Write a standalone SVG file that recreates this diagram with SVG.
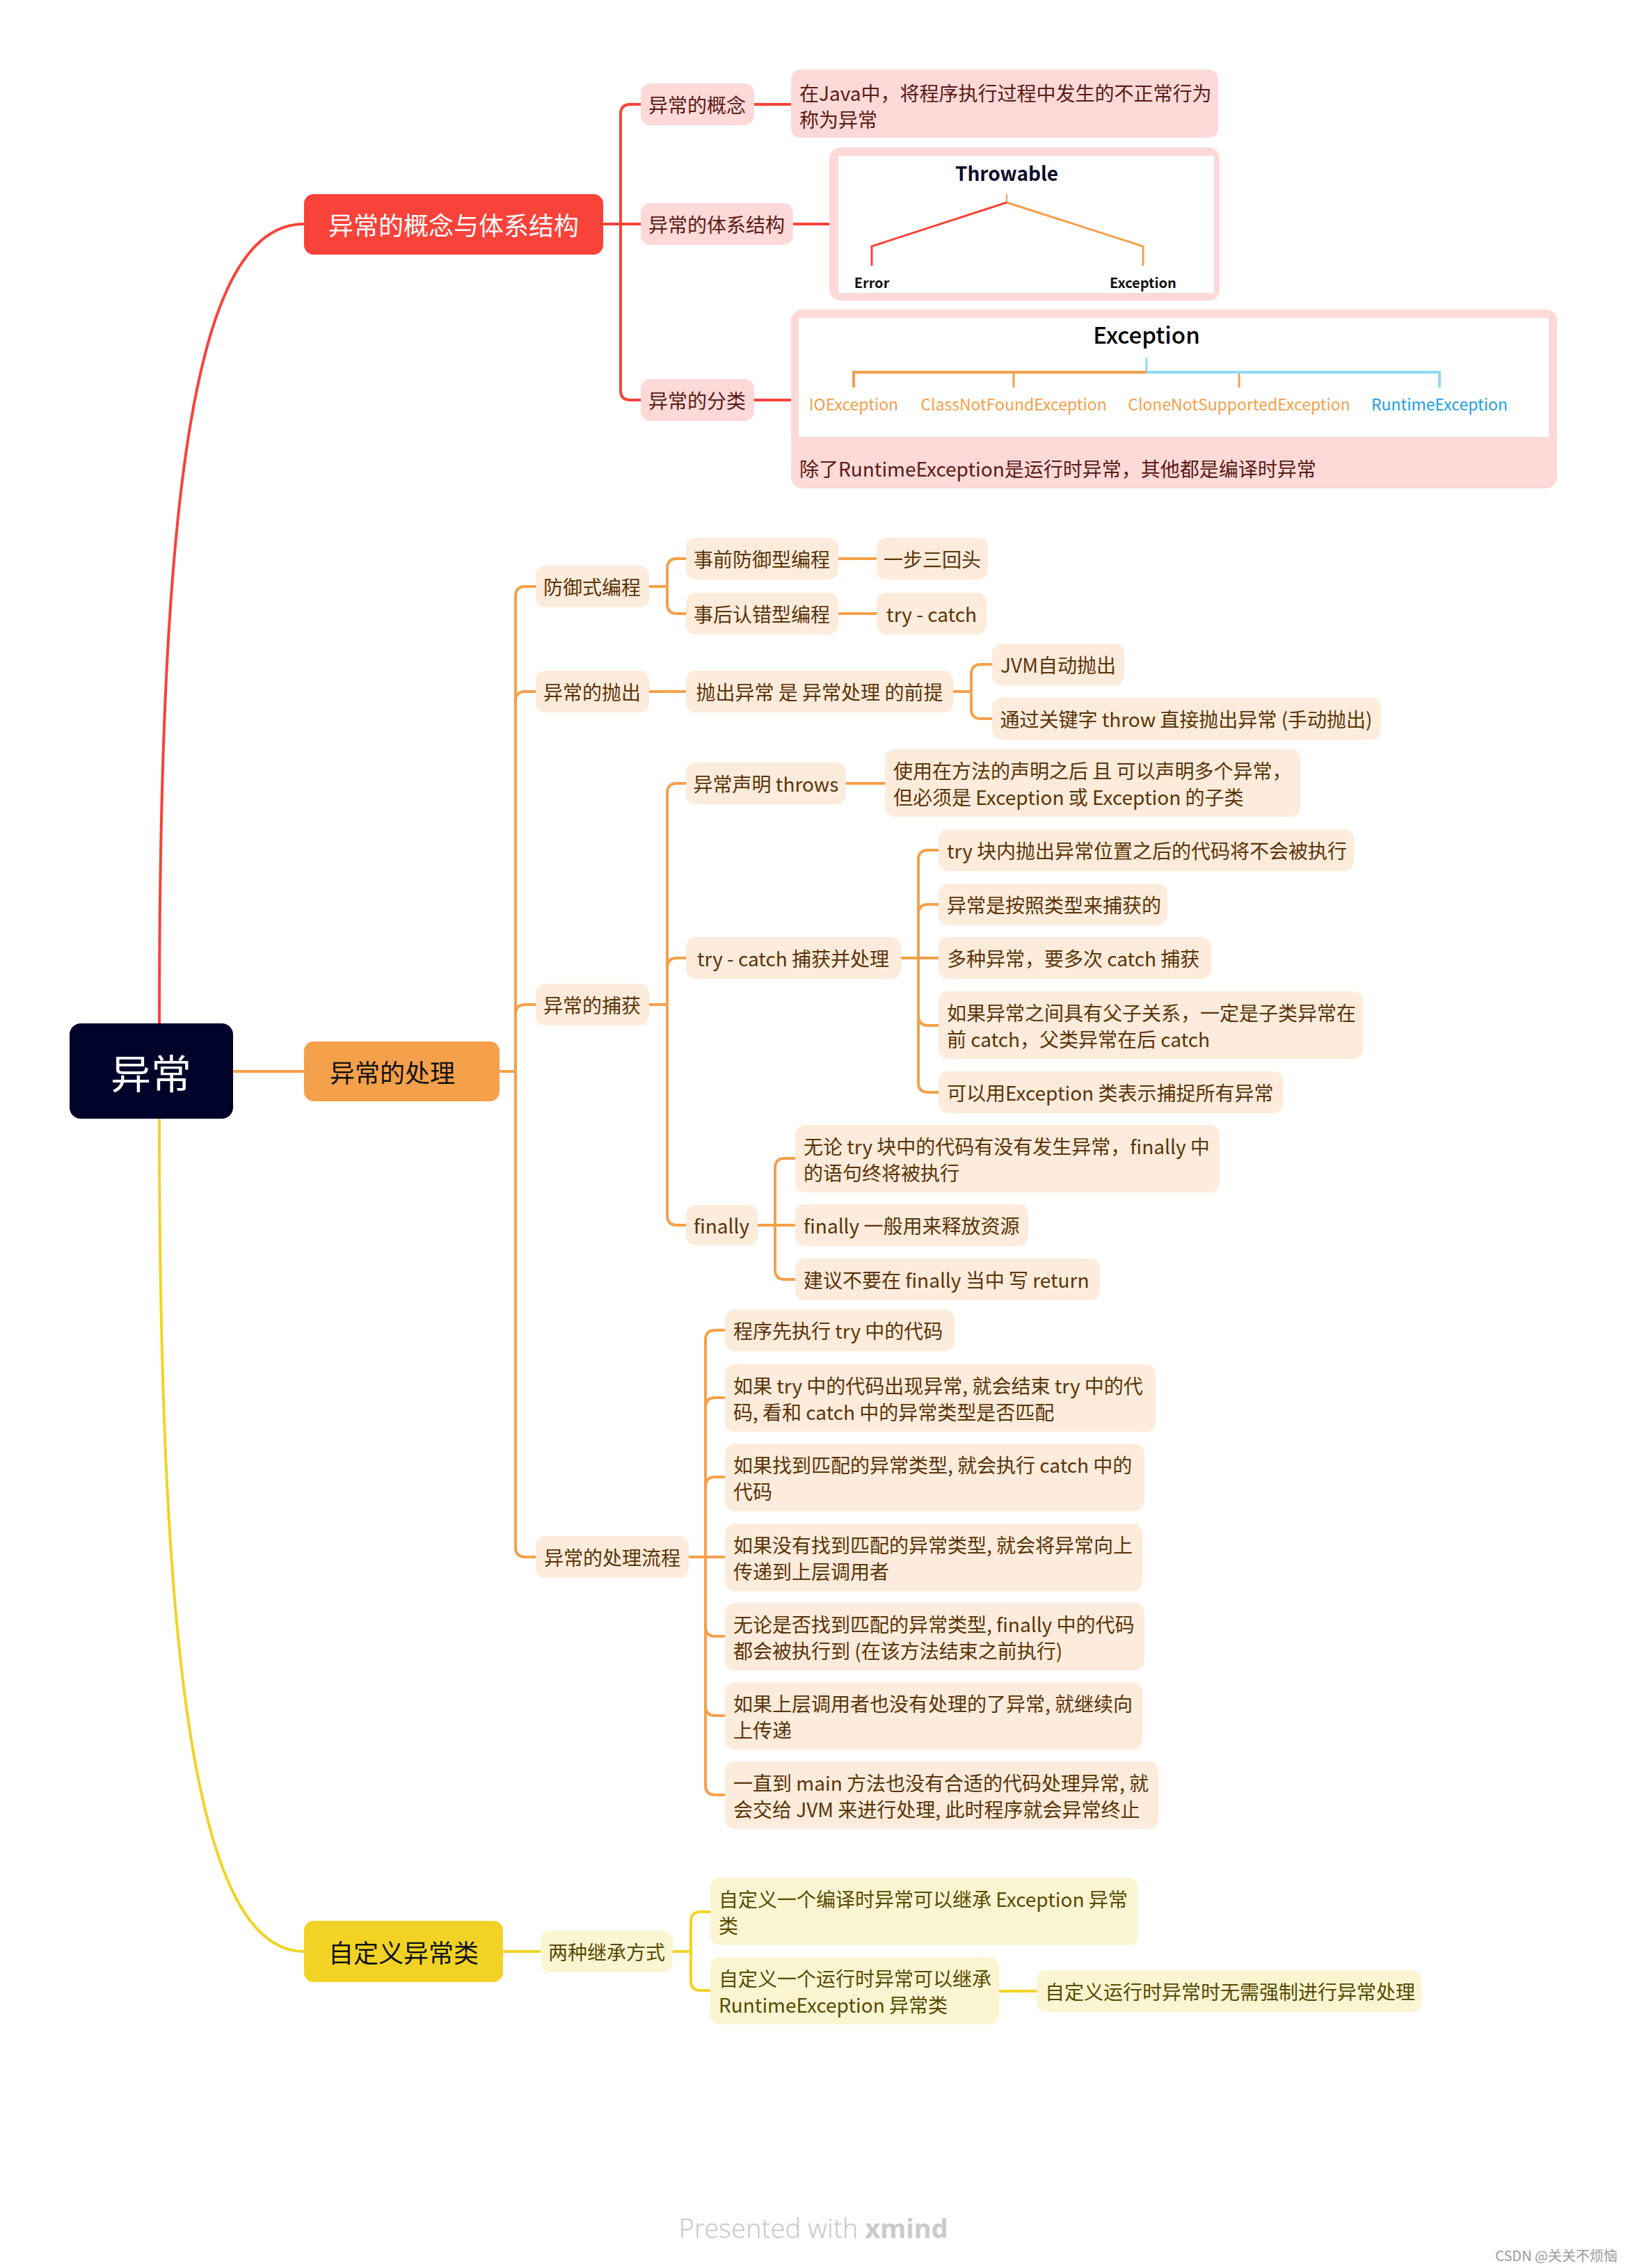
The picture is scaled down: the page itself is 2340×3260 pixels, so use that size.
<svg xmlns="http://www.w3.org/2000/svg" width="2340" height="3260" viewBox="0 0 2340 3260">
<style>
text{font-family:"Noto Sans CJK SC","Noto Sans",sans-serif;dominant-baseline:central}
.t{font-size:28px}
.c{text-anchor:middle}
.pr{fill:#FDD9D8}.po{fill:#FDEBDB}.py{fill:#FCF5D2}
.tr{fill:#5B1A14}.to{fill:#5A3408}.ty{fill:#574A00}
.cr{stroke:#F9423A;stroke-width:4;fill:none}
.co{stroke:#F5A04B;stroke-width:4;fill:none}
.cy{stroke:#F2D325;stroke-width:4;fill:none}
</style>
<rect width="2340" height="3260" fill="#fff"/>

<g id="connectors">
<path class="cr" stroke-width="5" d="M229,1471 C229,700 280,322 437,322"/>
<path class="cy" stroke-width="5" d="M229,1608 C229,2380 280,2805 437,2805"/>
<path class="co" d="M335,1540 H437"/>
<!-- red branch -->
<path class="cr" d="M867,322 H921"/>
<path class="cr" d="M892,322 V164 Q892,150 906,150 H921"/>
<path class="cr" d="M892,322 V561 Q892,575 906,575 H921"/>
<path class="cr" d="M1084,150 H1137"/>
<path class="cr" d="M1140,322 H1192"/>
<path class="cr" d="M1084,575 H1137"/>
<!-- orange branch -->
<path class="co" d="M718,1540 H741"/>
<path class="co" d="M741,1540 V857 Q741,843 755,843 H770"/>
<path class="co" d="M741,1540 V1008 Q741,994 755,994 H770"/>
<path class="co" d="M741,1540 V1458 Q741,1444 755,1444 H770"/>
<path class="co" d="M741,1540 V2224 Q741,2238 755,2238 H770"/>
<path class="co" d="M933,843 H959"/>
<path class="co" d="M959,843 V817 Q959,803 973,803 H986"/>
<path class="co" d="M959,843 V868 Q959,882 973,882 H986"/>
<path class="co" d="M1205,803 H1260"/>
<path class="co" d="M1205,882 H1260"/>
<path class="co" d="M933,994 H986"/>
<path class="co" d="M1370,994 H1396"/>
<path class="co" d="M1396,994 V969 Q1396,955 1410,955 H1426"/>
<path class="co" d="M1396,994 V1019 Q1396,1033 1410,1033 H1426"/>
<path class="co" d="M933,1444 H959"/>
<path class="co" d="M959,1444 V1140 Q959,1126 973,1126 H986"/>
<path class="co" d="M959,1444 V1391 Q959,1377 973,1377 H986"/>
<path class="co" d="M959,1444 V1747 Q959,1761 973,1761 H986"/>
<path class="co" d="M1216,1126 H1272"/>
<path class="co" d="M1295,1377 H1320"/>
<path class="co" d="M1320,1377 V1236 Q1320,1222 1334,1222 H1349"/>
<path class="co" d="M1320,1377 V1314 Q1320,1300 1334,1300 H1349"/>
<path class="co" d="M1320,1377 H1349"/>
<path class="co" d="M1320,1377 V1460 Q1320,1474 1334,1474 H1349"/>
<path class="co" d="M1320,1377 V1556 Q1320,1570 1334,1570 H1349"/>
<path class="co" d="M1089,1761 H1114"/>
<path class="co" d="M1114,1761 V1679 Q1114,1665 1128,1665 H1143"/>
<path class="co" d="M1114,1761 H1143"/>
<path class="co" d="M1114,1761 V1825 Q1114,1839 1128,1839 H1143"/>
<path class="co" d="M990,2238 H1014"/>
<path class="co" d="M1014,2238 V1926 Q1014,1912 1028,1912 H1042"/>
<path class="co" d="M1014,2238 V2023 Q1014,2009 1028,2009 H1042"/>
<path class="co" d="M1014,2238 V2137 Q1014,2123 1028,2123 H1042"/>
<path class="co" d="M1014,2238 H1042"/>
<path class="co" d="M1014,2238 V2338 Q1014,2352 1028,2352 H1042"/>
<path class="co" d="M1014,2238 V2452 Q1014,2466 1028,2466 H1042"/>
<path class="co" d="M1014,2238 V2566 Q1014,2580 1028,2580 H1042"/>
<!-- yellow branch -->
<path class="cy" d="M723,2805 H777"/>
<path class="cy" d="M967,2805 H993"/>
<path class="cy" d="M993,2805 V2762 Q993,2748 1007,2748 H1021"/>
<path class="cy" d="M993,2805 V2847 Q993,2861 1007,2861 H1021"/>
<path class="cy" d="M1436,2862 H1490"/>
</g>

<g id="root"><rect x="100" y="1471" width="235" height="137" rx="16" fill="#000229"/><text x="217" y="1540" class="c" font-size="58" fill="#fff">异常</text></g>

<g id="n-concept-main"><rect x="437" y="279" width="430" height="87" rx="14" fill="#F9423A"/><text x="652" y="322" class="c" font-size="36" fill="#fff">异常的概念与体系结构</text></g>
<g id="n-handle-main"><rect x="437" y="1497" width="281" height="86" rx="14" fill="#F5A04B"/><text x="564" y="1540" class="c" font-size="36" fill="#111">异常的处理</text></g>
<g id="n-custom-main"><rect x="437" y="2761" width="286" height="88" rx="14" fill="#F2D325"/><text x="580" y="2805" class="c" font-size="36" fill="#111">自定义异常类</text></g>

<!-- red sub nodes -->
<g id="n-gainian"><rect class="pr" x="921" y="120" width="163" height="60" rx="14"/><text class="t c tr" x="1002" y="150">异常的概念</text></g>
<g id="n-tixi"><rect class="pr" x="921" y="292" width="219" height="60" rx="14"/><text class="t c tr" x="1030" y="322">异常的体系结构</text></g>
<g id="n-fenlei"><rect class="pr" x="921" y="545" width="163" height="60" rx="14"/><text class="t c tr" x="1002" y="575">异常的分类</text></g>
<g id="n-gainian-leaf"><rect class="pr" x="1137" y="100" width="614" height="98" rx="14"/><text class="t tr" x="1149" y="133">在Java中，将程序执行过程中发生的不正常行为</text><text class="t tr" x="1149" y="171">称为异常</text></g>

<g id="n-throwable">
<rect class="pr" x="1192" y="212" width="561" height="220" rx="16"/>
<rect x="1205" y="224" width="540" height="197" fill="#fff"/>
<text x="1447" y="248" class="c" font-size="28" font-weight="700" fill="#0B0B2B">Throwable</text>
<path d="M1447,279 V291" stroke="#F4A04A" stroke-width="2" fill="none"/>
<path d="M1447,291 L1253,354 V382" stroke="#F9423A" stroke-width="3" fill="none"/>
<path d="M1447,291 L1643,354 V382" stroke="#F4A04A" stroke-width="3" fill="none"/>
<text x="1253" y="405" class="c" font-size="20" font-weight="700" fill="#111">Error</text>
<text x="1643" y="405" class="c" font-size="20" font-weight="700" fill="#111">Exception</text>
</g>

<g id="n-exception">
<rect class="pr" x="1137" y="445" width="1101" height="257" rx="16"/>
<rect x="1148" y="457" width="1078" height="171" fill="#fff"/>
<text x="1648" y="480" class="c" font-size="33" font-weight="500" fill="#000">Exception</text>
<path d="M1648,514 V535" stroke="#8EDBF5" stroke-width="3" fill="none"/>
<path d="M1227,557 V535 H1648" stroke="#F4A04A" stroke-width="4" fill="none"/>
<path d="M1457,535 V557 M1781,535 V557" stroke="#F4A04A" stroke-width="3" fill="none"/>
<path d="M1648,535 H2069 V557" stroke="#8EDBF5" stroke-width="4" fill="none"/>
<text x="1227" y="580" class="c" font-size="23" fill="#F4A04A">IOException</text>
<text x="1457" y="580" class="c" font-size="23" fill="#F4A04A">ClassNotFoundException</text>
<text x="1781" y="580" class="c" font-size="23" fill="#F4A04A">CloneNotSupportedException</text>
<text x="2069" y="580" class="c" font-size="23" fill="#1EA0E8">RuntimeException</text>
<text class="t tr" x="1149" y="673">除了RuntimeException是运行时异常，其他都是编译时异常</text>
</g>

<!-- orange sub nodes -->
<g id="n-fangyu"><rect class="po" x="770" y="813" width="163" height="60" rx="14"/><text class="t c to" x="851" y="843">防御式编程</text></g>
<g id="n-shiqian"><rect class="po" x="986" y="773" width="219" height="60" rx="14"/><text class="t c to" x="1095" y="803">事前防御型编程</text></g>
<g id="n-shihou"><rect class="po" x="986" y="852" width="219" height="60" rx="14"/><text class="t c to" x="1095" y="882">事后认错型编程</text></g>
<g id="n-yibu"><rect class="po" x="1260" y="773" width="160" height="60" rx="14"/><text class="t c to" x="1340" y="803">一步三回头</text></g>
<g id="n-trycatch1"><rect class="po" x="1260" y="852" width="158" height="60" rx="14"/><text class="t c to" x="1339" y="882">try - catch</text></g>

<g id="n-paochu"><rect class="po" x="770" y="964" width="163" height="60" rx="14"/><text class="t c to" x="851" y="994">异常的抛出</text></g>
<g id="n-qianti"><rect class="po" x="986" y="964" width="384" height="60" rx="14"/><text class="t c to" x="1178" y="994">抛出异常 是 异常处理 的前提</text></g>
<g id="n-jvm"><rect class="po" x="1426" y="925" width="190" height="60" rx="14"/><text class="t c to" x="1521" y="955">JVM自动抛出</text></g>
<g id="n-throw"><rect class="po" x="1426" y="1003" width="559" height="60" rx="14"/><text class="t c to" x="1705" y="1033">通过关键字 throw 直接抛出异常 (手动抛出)</text></g>

<g id="n-buhuo"><rect class="po" x="770" y="1414" width="163" height="60" rx="14"/><text class="t c to" x="851" y="1444">异常的捕获</text></g>
<g id="n-throws"><rect class="po" x="986" y="1096" width="230" height="60" rx="14"/><text class="t c to" x="1101" y="1126">异常声明 throws</text></g>
<g id="n-throws-leaf"><rect class="po" x="1272" y="1077" width="597" height="97" rx="14"/><text class="t to" x="1284" y="1107">使用在方法的声明之后 且 可以声明多个异常，</text><text class="t to" x="1284" y="1145">但必须是 Exception 或 Exception 的子类</text></g>
<g id="n-trycatch2"><rect class="po" x="986" y="1347" width="309" height="60" rx="14"/><text class="t c to" x="1140" y="1377">try - catch 捕获并处理</text></g>
<g id="n-tc1"><rect class="po" x="1349" y="1192" width="597" height="60" rx="14"/><text class="t to" x="1361" y="1222">try 块内抛出异常位置之后的代码将不会被执行</text></g>
<g id="n-tc2"><rect class="po" x="1349" y="1270" width="329" height="60" rx="14"/><text class="t to" x="1361" y="1300">异常是按照类型来捕获的</text></g>
<g id="n-tc3"><rect class="po" x="1349" y="1347" width="392" height="60" rx="14"/><text class="t to" x="1361" y="1377">多种异常，要多次 catch 捕获</text></g>
<g id="n-tc4"><rect class="po" x="1349" y="1425" width="610" height="97" rx="14"/><text class="t to" x="1361" y="1455">如果异常之间具有父子关系，一定是子类异常在</text><text class="t to" x="1361" y="1493">前 catch，父类异常在后 catch</text></g>
<g id="n-tc5"><rect class="po" x="1349" y="1540" width="495" height="60" rx="14"/><text class="t to" x="1361" y="1570">可以用Exception 类表示捕捉所有异常</text></g>
<g id="n-finally"><rect class="po" x="986" y="1732" width="103" height="58" rx="14"/><text class="t c to" x="1037" y="1761">finally</text></g>
<g id="n-f1"><rect class="po" x="1143" y="1617" width="610" height="97" rx="14"/><text class="t to" x="1155" y="1647">无论 try 块中的代码有没有发生异常，finally 中</text><text class="t to" x="1155" y="1685">的语句终将被执行</text></g>
<g id="n-f2"><rect class="po" x="1143" y="1731" width="335" height="60" rx="14"/><text class="t to" x="1155" y="1761">finally 一般用来释放资源</text></g>
<g id="n-f3"><rect class="po" x="1143" y="1809" width="438" height="60" rx="14"/><text class="t to" x="1155" y="1839">建议不要在 finally 当中 写 return</text></g>

<g id="n-liucheng"><rect class="po" x="770" y="2208" width="220" height="60" rx="14"/><text class="t c to" x="880" y="2238">异常的处理流程</text></g>
<g id="n-l1"><rect class="po" x="1042" y="1882" width="330" height="60" rx="14"/><text class="t to" x="1054" y="1912">程序先执行 try 中的代码</text></g>
<g id="n-l2"><rect class="po" x="1042" y="1961" width="619" height="97" rx="14"/><text class="t to" x="1054" y="1991">如果 try 中的代码出现异常, 就会结束 try 中的代</text><text class="t to" x="1054" y="2029">码, 看和 catch 中的异常类型是否匹配</text></g>
<g id="n-l3"><rect class="po" x="1042" y="2075" width="603" height="97" rx="14"/><text class="t to" x="1054" y="2105">如果找到匹配的异常类型, 就会执行 catch 中的</text><text class="t to" x="1054" y="2143">代码</text></g>
<g id="n-l4"><rect class="po" x="1042" y="2190" width="600" height="97" rx="14"/><text class="t to" x="1054" y="2220">如果没有找到匹配的异常类型, 就会将异常向上</text><text class="t to" x="1054" y="2258">传递到上层调用者</text></g>
<g id="n-l5"><rect class="po" x="1042" y="2304" width="603" height="97" rx="14"/><text class="t to" x="1054" y="2334">无论是否找到匹配的异常类型, finally 中的代码</text><text class="t to" x="1054" y="2372">都会被执行到 (在该方法结束之前执行)</text></g>
<g id="n-l6"><rect class="po" x="1042" y="2418" width="600" height="97" rx="14"/><text class="t to" x="1054" y="2448">如果上层调用者也没有处理的了异常, 就继续向</text><text class="t to" x="1054" y="2486">上传递</text></g>
<g id="n-l7"><rect class="po" x="1042" y="2532" width="623" height="97" rx="14"/><text class="t to" x="1054" y="2562">一直到 main 方法也没有合适的代码处理异常, 就</text><text class="t to" x="1054" y="2600">会交给 JVM 来进行处理, 此时程序就会异常终止</text></g>

<!-- yellow sub nodes -->
<g id="n-liangzhong"><rect class="py" x="777" y="2775" width="190" height="60" rx="14"/><text class="t c ty" x="872" y="2805">两种继承方式</text></g>
<g id="n-y1"><rect class="py" x="1021" y="2699" width="615" height="97" rx="14"/><text class="t ty" x="1033" y="2729">自定义一个编译时异常可以继承 Exception 异常</text><text class="t ty" x="1033" y="2767">类</text></g>
<g id="n-y2"><rect class="py" x="1021" y="2813" width="415" height="97" rx="14"/><text class="t ty" x="1033" y="2843">自定义一个运行时异常可以继承</text><text class="t ty" x="1033" y="2881">RuntimeException 异常类</text></g>
<g id="n-y3"><rect class="py" x="1490" y="2832" width="553" height="60" rx="14"/><text class="t ty" x="1502" y="2862">自定义运行时异常时无需强制进行异常处理</text></g>

<text x="1169" y="3202" class="c" font-size="38" fill="#CACACA" style="font-family:'Noto Sans',sans-serif"><tspan font-weight="300">Presented with </tspan><tspan font-weight="700">xmind</tspan></text>
<text x="2325" y="3241" font-size="20" fill="#9A9A9A" text-anchor="end">CSDN @关关不烦恼</text>
</svg>
